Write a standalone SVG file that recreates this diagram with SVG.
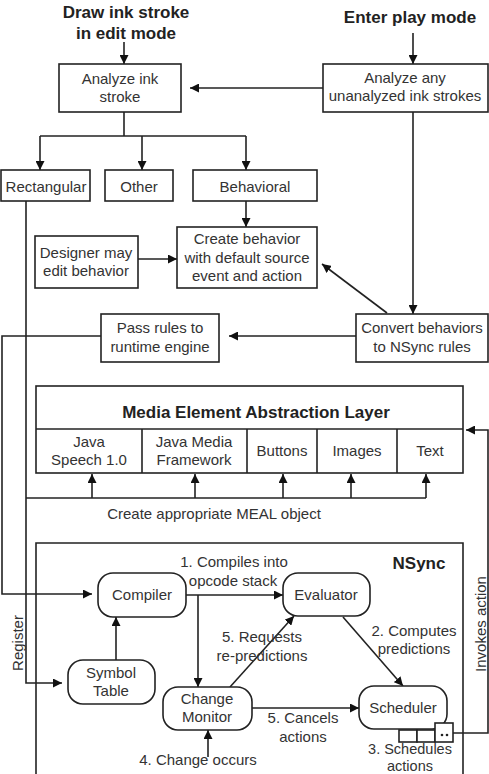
<svg xmlns="http://www.w3.org/2000/svg" width="489" height="774" viewBox="0 0 489 774">
<style>
text{font-family:"Liberation Sans",Arial,sans-serif;font-size:15px;fill:#333;text-anchor:middle}
.b{font-weight:bold;font-size:17px;fill:#222}
.s{font-size:14.5px}
.box{fill:#fff;stroke:#222;stroke-width:1.6}
.ln{fill:none;stroke:#222;stroke-width:1.6}
.ar{fill:none;stroke:#222;stroke-width:1.6;marker-end:url(#ah)}
</style>
<defs>
<marker id="ah" viewBox="0 0 10 10" refX="10" refY="5" markerWidth="9" markerHeight="9" orient="auto" markerUnits="userSpaceOnUse"><path d="M0,0 L10,5 L0,10 z" fill="#111"/></marker>
</defs>
<rect width="489" height="774" fill="#fff"/>
<g id="titles">
<text class="b" x="126" y="18">Draw ink stroke</text>
<text class="b" x="126" y="39">in edit mode</text>
<text class="b" x="410" y="23">Enter play mode</text>
</g>
<g id="connectors">
<line class="ar" x1="124" y1="42" x2="124" y2="64"/>
<line class="ar" x1="413" y1="33" x2="413" y2="64"/>
<line class="ar" x1="323" y1="88" x2="190" y2="88"/>
<polyline class="ln" points="124,112 124,136"/>
<polyline class="ln" points="40,136 246,136"/>
<line class="ar" x1="40" y1="136" x2="40" y2="170"/>
<line class="ar" x1="142" y1="136" x2="142" y2="170"/>
<line class="ar" x1="246" y1="136" x2="246" y2="170"/>
<line class="ar" x1="246" y1="201" x2="246" y2="227"/>
<line class="ar" x1="138" y1="259" x2="177" y2="259"/>
<line class="ar" x1="387" y1="313" x2="322" y2="264"/>
<line class="ar" x1="413" y1="112" x2="413" y2="314"/>
<line class="ar" x1="356" y1="336" x2="229" y2="336"/>
<polyline class="ar" points="101,336 2,336 2,594 92,594"/>
<polyline class="ar" points="26,201 26,683 62,683"/>
<polyline class="ln" points="26,498 426,498"/>
<line class="ar" x1="92" y1="498" x2="92" y2="474"/>
<line class="ar" x1="195" y1="498" x2="195" y2="474"/>
<line class="ar" x1="283" y1="498" x2="283" y2="474"/>
<line class="ar" x1="351" y1="498" x2="351" y2="474"/>
<line class="ar" x1="426" y1="498" x2="426" y2="474"/>
<polyline class="ar" points="453,733 488,733 488,430 466,430"/>
<line class="ar" x1="186" y1="595" x2="283" y2="595"/>
<line class="ar" x1="198" y1="595" x2="198" y2="687"/>
<line class="ar" x1="116" y1="660" x2="116" y2="617"/>
<line class="ar" x1="230" y1="687" x2="294" y2="616"/>
<line class="ar" x1="343" y1="617" x2="403" y2="686"/>
<line class="ar" x1="252" y1="708" x2="359" y2="708"/>
<line class="ar" x1="208" y1="757" x2="208" y2="730"/>
</g>
<g id="analyze-ink">
<rect class="box" x="59" y="64" width="122" height="48"/>
<text x="120" y="84">Analyze ink</text>
<text x="120" y="102">stroke</text>
</g>
<g id="analyze-any">
<rect class="box" x="323" y="64" width="165" height="48"/>
<text x="405" y="83">Analyze any</text>
<text x="405" y="101">unanalyzed ink strokes</text>
</g>
<g id="rectangular">
<rect class="box" x="1" y="170" width="89" height="31"/>
<text x="46" y="192">Rectangular</text>
</g>
<g id="other">
<rect class="box" x="105" y="170" width="68" height="31"/>
<text x="139" y="192">Other</text>
</g>
<g id="behavioral">
<rect class="box" x="193" y="170" width="124" height="31"/>
<text x="255" y="192">Behavioral</text>
</g>
<g id="create-behavior">
<rect class="box" x="177" y="227" width="140" height="61"/>
<text x="247" y="244">Create behavior</text>
<text x="247" y="263">with default source</text>
<text x="247" y="281">event and action</text>
</g>
<g id="designer">
<rect class="box" x="35" y="236" width="103" height="52"/>
<text x="86" y="258">Designer may</text>
<text x="86" y="276">edit behavior</text>
</g>
<g id="convert">
<rect class="box" x="356" y="314" width="132" height="48"/>
<text x="422" y="333">Convert behaviors</text>
<text x="422" y="352">to NSync rules</text>
</g>
<g id="pass-rules">
<rect class="box" x="101" y="314" width="118" height="48"/>
<text x="160" y="333">Pass rules to</text>
<text x="160" y="352">runtime engine</text>
</g>
<g id="meal">
<rect class="box" x="36" y="386" width="427" height="87"/>
<line class="ln" x1="36" y1="429" x2="463" y2="429"/>
<line class="ln" x1="142" y1="429" x2="142" y2="473"/>
<line class="ln" x1="247" y1="429" x2="247" y2="473"/>
<line class="ln" x1="317" y1="429" x2="317" y2="473"/>
<line class="ln" x1="397" y1="429" x2="397" y2="473"/>
<text class="b" x="256" y="418">Media Element Abstraction Layer</text>
<text x="89" y="447">Java</text>
<text x="89" y="465">Speech 1.0</text>
<text x="194" y="447">Java Media</text>
<text x="194" y="465">Framework</text>
<text x="282" y="456">Buttons</text>
<text x="357" y="456">Images</text>
<text x="430" y="456">Text</text>
</g>
<g id="labels">
<text x="214" y="519">Create appropriate MEAL object</text>
<text transform="translate(23,643) rotate(-90)">Register</text>
<text transform="translate(486,624) rotate(-90)">Invokes action</text>
</g>
<g id="nsync">
<path class="ln" d="M36,776 V543 H463 V776"/>
<text class="b" x="419" y="569">NSync</text>
</g>
<g id="compiler">
<rect class="box" x="98" y="573" width="88" height="44" rx="15"/>
<text x="142" y="600">Compiler</text>
</g>
<g id="evaluator">
<rect class="box" x="283" y="573" width="87" height="43" rx="15"/>
<text x="326" y="600">Evaluator</text>
</g>
<g id="symbol-table">
<rect class="box" x="68" y="660" width="87" height="44" rx="15"/>
<text x="111" y="678">Symbol</text>
<text x="111" y="696">Table</text>
</g>
<g id="change-monitor">
<rect class="box" x="163" y="687" width="89" height="43" rx="15"/>
<text x="207" y="704">Change</text>
<text x="207" y="722">Monitor</text>
</g>
<g id="scheduler">
<rect class="box" x="359" y="686" width="88" height="43" rx="15"/>
<text x="403" y="713">Scheduler</text>
<rect class="box" x="399" y="730" width="18" height="12"/>
<rect class="box" x="417" y="730" width="18" height="12"/>
<rect class="box" x="435" y="723" width="18" height="19"/>
<circle cx="442" cy="735" r="1.3" fill="#222"/>
<circle cx="447" cy="735" r="1.3" fill="#222"/>
</g>
<g id="edge-labels">
<text x="234" y="567">1. Compiles into</text>
<text x="233" y="586">opcode stack</text>
<text x="262" y="642">5. Requests</text>
<text x="262" y="661">re-predictions</text>
<text x="414" y="636">2. Computes</text>
<text x="414" y="654">predictions</text>
<text x="303" y="723">5. Cancels</text>
<text x="303" y="742">actions</text>
<text x="198" y="765">4. Change occurs</text>
<text class="s" x="410" y="754">3. Schedules</text>
<text class="s" x="410" y="771">actions</text>
</g>
</svg>
